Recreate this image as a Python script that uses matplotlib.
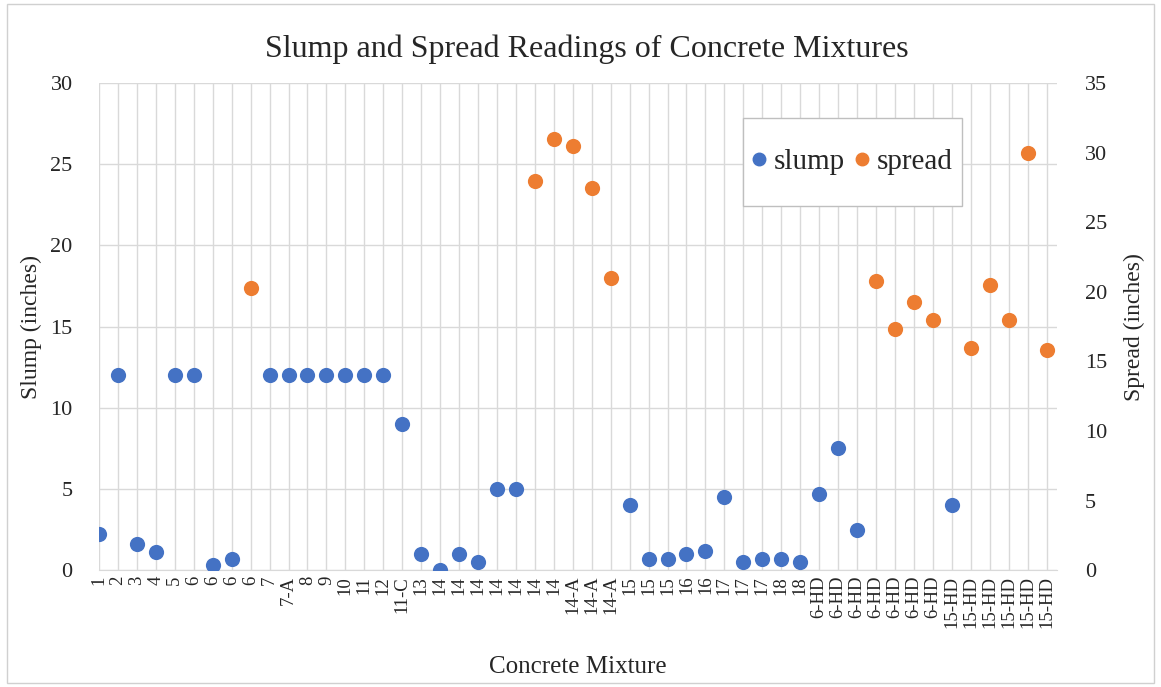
import matplotlib
matplotlib.use("Agg")
import matplotlib.pyplot as plt
import numpy as np
from matplotlib.lines import Line2D
from matplotlib.patches import Rectangle

nan = np.nan

# category labels along the x axis (one per reading)
mixtures = ["1", "2", "3", "4", "5", "6", "6", "6", "6", "7", "7-A", "8", "9", "10",
            "11", "12", "11-C", "13", "14", "14", "14", "14", "14", "14", "14",
            "14-A", "14-A", "14-A", "15", "15", "15", "16", "16", "17", "17", "17",
            "18", "18", "6-HD", "6-HD", "6-HD", "6-HD", "6-HD", "6-HD", "6-HD",
            "15-HD", "15-HD", "15-HD", "15-HD", "15-HD", "15-HD"]

# slump (in), left axis
slump = [2.2, 12, 1.6, 1.1, 12, 12, 0.3, 0.7, nan, 12, 12, 12, 12, 12,
         12, 12, 9, 1.0, 0.0, 1.0, 0.5, 5, 5, nan, nan,
         nan, nan, nan, 4, 0.7, 0.7, 1.0, 1.2, 4.5, 0.5, 0.7,
         0.7, 0.5, 4.7, 7.5, 2.5, nan, nan, nan, nan,
         4, nan, nan, nan, nan, nan]

# spread (in), right axis
spread = [nan, nan, nan, nan, nan, nan, nan, nan, 20.3, nan, nan, nan, nan, nan,
          nan, nan, nan, nan, nan, nan, nan, nan, nan, 28, 31,
          30.5, 27.5, 21, nan, nan, nan, nan, nan, nan, nan, nan,
          nan, nan, nan, nan, nan, 20.8, 17.3, 19.3, 18,
          nan, 16, 20.5, 18, 30, 15.8]

BLUE = "#4472C4"
ORANGE = "#ED7D31"
GRID = "#D9D9D9"
TEXT = "#262626"
FONT = "Liberation Serif"

plt.rcParams["font.family"] = [FONT, "DejaVu Serif"]

fig = plt.figure(figsize=(11.61, 6.87), dpi=100)
ax = fig.add_axes([0.0853, 0.170, 0.8251, 0.709])
ax2 = ax.twinx()

x = np.arange(len(mixtures))
ax.scatter(x, slump, s=120, color=BLUE, zorder=3, linewidths=0)
ax2.scatter(x, spread, s=120, color=ORANGE, zorder=3, linewidths=0)

ax.set_xlim(0, len(mixtures) - 0.45)
ax.set_ylim(0, 30)
ax2.set_ylim(0, 35)
ax.set_yticks(np.arange(0, 31, 5))
ax2.set_yticks(np.arange(0, 36, 5))
ax.set_xticks(x)
ax.set_xticklabels(mixtures, rotation=90, fontsize=13.5, color=TEXT)
ax.tick_params(axis="y", labelsize=16, colors=TEXT, length=0, pad=19)
ax2.tick_params(axis="y", labelsize=16, colors=TEXT, length=0, pad=20)
ax.tick_params(axis="x", length=0, pad=4)

ax.grid(True, color=GRID, lw=1)
ax.set_axisbelow(True)
for a in (ax, ax2):
    for sp in a.spines.values():
        sp.set_visible(False)
ax.spines["bottom"].set_visible(True)
ax.spines["bottom"].set_color(GRID)

ax.set_title("Slump and Spread Readings of Concrete Mixtures", fontsize=23,
             color=TEXT, pad=19, x=0.509)
ax.set_xlabel("Concrete Mixture", fontsize=18, color=TEXT, labelpad=20)
ax.set_ylabel("Slump (inches)", fontsize=17, color=TEXT, labelpad=6)
ax2.set_ylabel("Spread (inches)", fontsize=17, color=TEXT, rotation=90, labelpad=12)

# legend: entries without frame, box drawn separately (tall, tight sides)
handles = [Line2D([], [], ls="", marker="o", ms=9, color=BLUE, mec=BLUE),
           Line2D([], [], ls="", marker="o", ms=9, color=ORANGE, mec=ORANGE)]
leg = ax2.legend(handles, ["slump", "spread"], ncol=2, loc="center",
                 bbox_to_anchor=(0.7865, 0.8375), fontsize=21, frameon=False,
                 borderpad=0, handlelength=0.5, handletextpad=0.25,
                 columnspacing=0.35, borderaxespad=0)
for t in leg.get_texts():
    t.set_color(TEXT)
ax2.add_patch(Rectangle((0.672, 0.747), 0.229, 0.181, transform=ax2.transAxes,
                        fill=True, facecolor="white", edgecolor="#BFBFBF", lw=1,
                        zorder=4))
leg.set_zorder(5)

fig.patches.append(Rectangle((0.006, 0.006), 0.988, 0.988, transform=fig.transFigure,
                             fill=False, edgecolor="#D0D0D0", lw=1))

fig.savefig("out.png", dpi=100, facecolor="white")
